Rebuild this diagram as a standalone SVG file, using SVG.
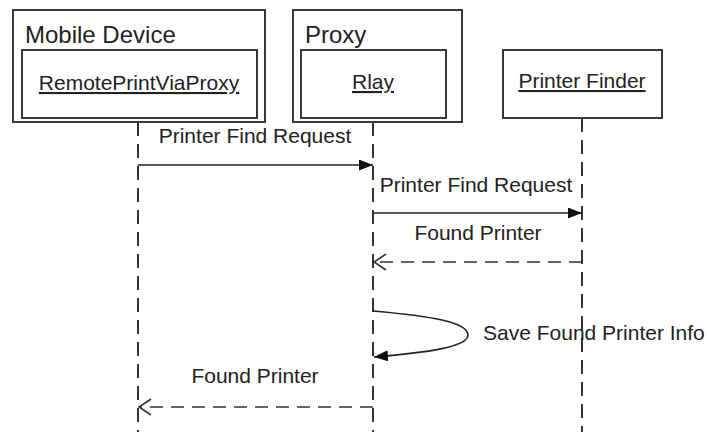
<svg xmlns="http://www.w3.org/2000/svg" width="707" height="432" viewBox="0 0 707 432">
  <style>
    .box { fill: #ffffff; stroke: #3a3a3a; stroke-width: 2; }
    .title { font-family: "Liberation Sans", Arial, sans-serif; font-size: 24px; fill: #222; }
    .name { font-family: "Liberation Sans", Arial, sans-serif; font-size: 21px; fill: #222; text-decoration: underline; }
    .label { font-family: "Liberation Sans", Arial, sans-serif; font-size: 21px; fill: #222; }
    .life { stroke: #333; stroke-width: 2; stroke-dasharray: 14 8; fill: none; }
    .msg { stroke: #222; stroke-width: 1.6; fill: none; }
    .ret { stroke: #333; stroke-width: 1.6; fill: none; stroke-dasharray: 13 8; }
  </style>
  <defs>
    <marker id="solid" viewBox="0 0 14 11" refX="14" refY="5.5" markerWidth="14" markerHeight="11" markerUnits="userSpaceOnUse" orient="auto">
      <path d="M0,0 L14,5.5 L0,11 Z" fill="#111"/>
    </marker>
    <marker id="open" viewBox="0 0 14 18" refX="13" refY="9" markerWidth="14" markerHeight="18" markerUnits="userSpaceOnUse" orient="auto">
      <path d="M1,1 L13,9 L1,17" fill="none" stroke="#333" stroke-width="1.6"/>
    </marker>
  </defs>

  <rect width="707" height="432" fill="#ffffff"/>

  <!-- lifelines -->
  <g id="lifelines">
    <line class="life" x1="138" y1="122" x2="138" y2="432"/>
    <line class="life" x1="373" y1="122" x2="373" y2="432"/>
    <line class="life" x1="582" y1="118" x2="582" y2="432"/>
  </g>

  <g id="mobile-device">
    <rect class="box" x="13" y="10" width="252" height="112"/>
    <text class="title" x="25" y="43">Mobile Device</text>
    <rect class="box" x="22" y="50" width="235" height="68"/>
    <text class="name" x="139" y="90" text-anchor="middle">RemotePrintViaProxy</text>
  </g>

  <g id="proxy">
    <rect class="box" x="293" y="10" width="169" height="112"/>
    <text class="title" x="305" y="43">Proxy</text>
    <rect class="box" x="301" y="50" width="145" height="68"/>
    <text class="name" x="373" y="89" text-anchor="middle">Rlay</text>
  </g>

  <g id="printer-finder">
    <rect class="box" x="503" y="50" width="159" height="68"/>
    <text class="name" x="582" y="88" text-anchor="middle">Printer Finder</text>
  </g>

  <!-- messages -->
  <g id="connectors">
    <line class="msg" x1="138" y1="165" x2="373" y2="165" marker-end="url(#solid)"/>
    <text class="label" x="255" y="143" text-anchor="middle">Printer Find Request</text>

    <line class="msg" x1="373" y1="213" x2="582" y2="213" marker-end="url(#solid)"/>
    <text class="label" x="476" y="192" text-anchor="middle">Printer Find Request</text>

    <line class="ret" x1="582" y1="262" x2="374" y2="262" marker-end="url(#open)"/>
    <text class="label" x="478" y="240" text-anchor="middle">Found Printer</text>

    <path class="msg" d="M373,311 C430,316 468,322 468,335 C468,348 420,353 374,357" marker-end="url(#solid)"/>
    <text class="label" x="483" y="340">Save Found Printer Info</text>

    <line class="ret" x1="373" y1="407" x2="139" y2="407" marker-end="url(#open)"/>
    <text class="label" x="255" y="383" text-anchor="middle">Found Printer</text>
  </g>
</svg>
